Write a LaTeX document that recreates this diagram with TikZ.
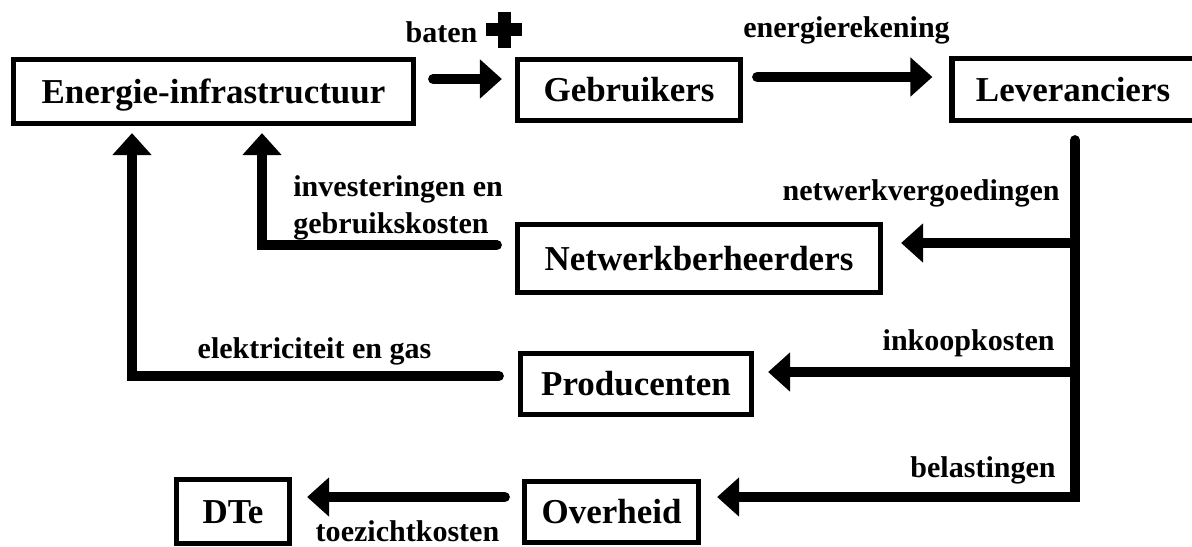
\documentclass[tikz,border=0pt]{standalone}
\usepackage{fontspec}
\setmainfont{Liberation Serif}
\usepackage{tikz}
\usetikzlibrary{arrows.meta,calc}

\begin{document}
\begin{tikzpicture}[x=.02cm,y=-.02cm,
    box/.style={draw,line width=3pt,minimum height=1.22cm,inner sep=0pt,text height=13.2pt,text depth=0pt,font=\bfseries\fontsize{19.9}{24}\selectfont},
    flow/.style={line width=.2cm,line cap=round,line join=miter,-{Triangle[length=.44cm,width=.76cm]}},
    lbl/.style={inner sep=0pt,font=\bfseries\fontsize{17.1}{21}\selectfont}]
        \useasboundingbox (0,0) rectangle (1192,547);
        % boxes
        \node[box,minimum width=8cm,minimum height=1.28cm] (infra) at (213.5,91.5) {Energie-infrastructuur};
        \node[box,minimum width=4.46cm] (gebr) at (629,90) {Gebruikers};
        \node[box,minimum width=5cm,minimum height=1.24cm] (lev) at (1077,89.5) {\hspace*{-.16cm}Leveranciers};
        \node[box,minimum width=7.26cm,minimum height=1.36cm] (netw) at (699,258.5) {Netwerkberheerders};
        \node[box,minimum width=4.62cm] (prod) at (636,384) {Producenten};
        \node[box,minimum width=3.48cm] (overh) at (611.5,512) {Overheid};
        \node[box,minimum width=2.26cm,minimum height=1.28cm] (dte) at (233,511.5) {DTe};
        % levels of the connectors
        \coordinate (ya) at (0,79);
        \coordinate (yb) at (0,77);
        \coordinate (tn) at (1075,243);
        \coordinate (tp) at (1075,372);
        \coordinate (tb) at (1075,497);
        \coordinate (inv) at (262,245);
        \coordinate (elg) at (132,376);
        % connectors
        \draw[flow,shorten <=.34cm,shorten >=.26cm] (infra.east |- ya) -- (gebr.west |- ya);
        \draw[flow,shorten <=.28cm,shorten >=.34cm] (gebr.east |- yb) -- (lev.west |- yb);
        \draw[flow,shorten <=.34cm,shorten >=.32cm] (lev.south -| tb) -- (tb) -- (overh.east |- tb);
        \draw[flow,shorten >=.36cm] (tn) -- (netw.east |- tn);
        \draw[flow,shorten >=.28cm] (tp) -- (prod.east |- tp);
        \draw[flow,shorten <=.36cm,shorten >=.14cm] (netw.west |- inv) -| (infra.south -| inv);
        \draw[flow,shorten <=.38cm,shorten >=.14cm] (prod.west |- elg) -| (infra.south -| elg);
        \draw[flow,shorten <=.34cm,shorten >=.3cm] (overh.west |- tb) -- (dte.east |- tb);
        % labels
        \node[lbl,anchor=base] (baten) at (441.5,43) {baten};
        \draw[line width=.26cm] (486,30) -- (522,30) (504,12) -- (504,48);
        \node[lbl,anchor=base] (rek) at (846.5,38) {energierekening};
        \node[lbl,anchor=north west,align=left] (kosten) at (293,175) {investeringen en\\gebruikskosten};
        \node[lbl,anchor=base east] (vergoed) at (1060,200) {netwerkvergoedingen};
        \node[lbl,anchor=base east] (inkoop) at (1055,350) {inkoopkosten};
        \node[lbl,anchor=base east] (belast) at (1056,477) {belastingen};
        \node[lbl,anchor=base] (stroom) at (314.5,358) {elektriciteit en gas};
        \node[lbl,anchor=base] (toezicht) at (407.5,541) {toezichtkosten};
      \end{tikzpicture}
\end{document}
